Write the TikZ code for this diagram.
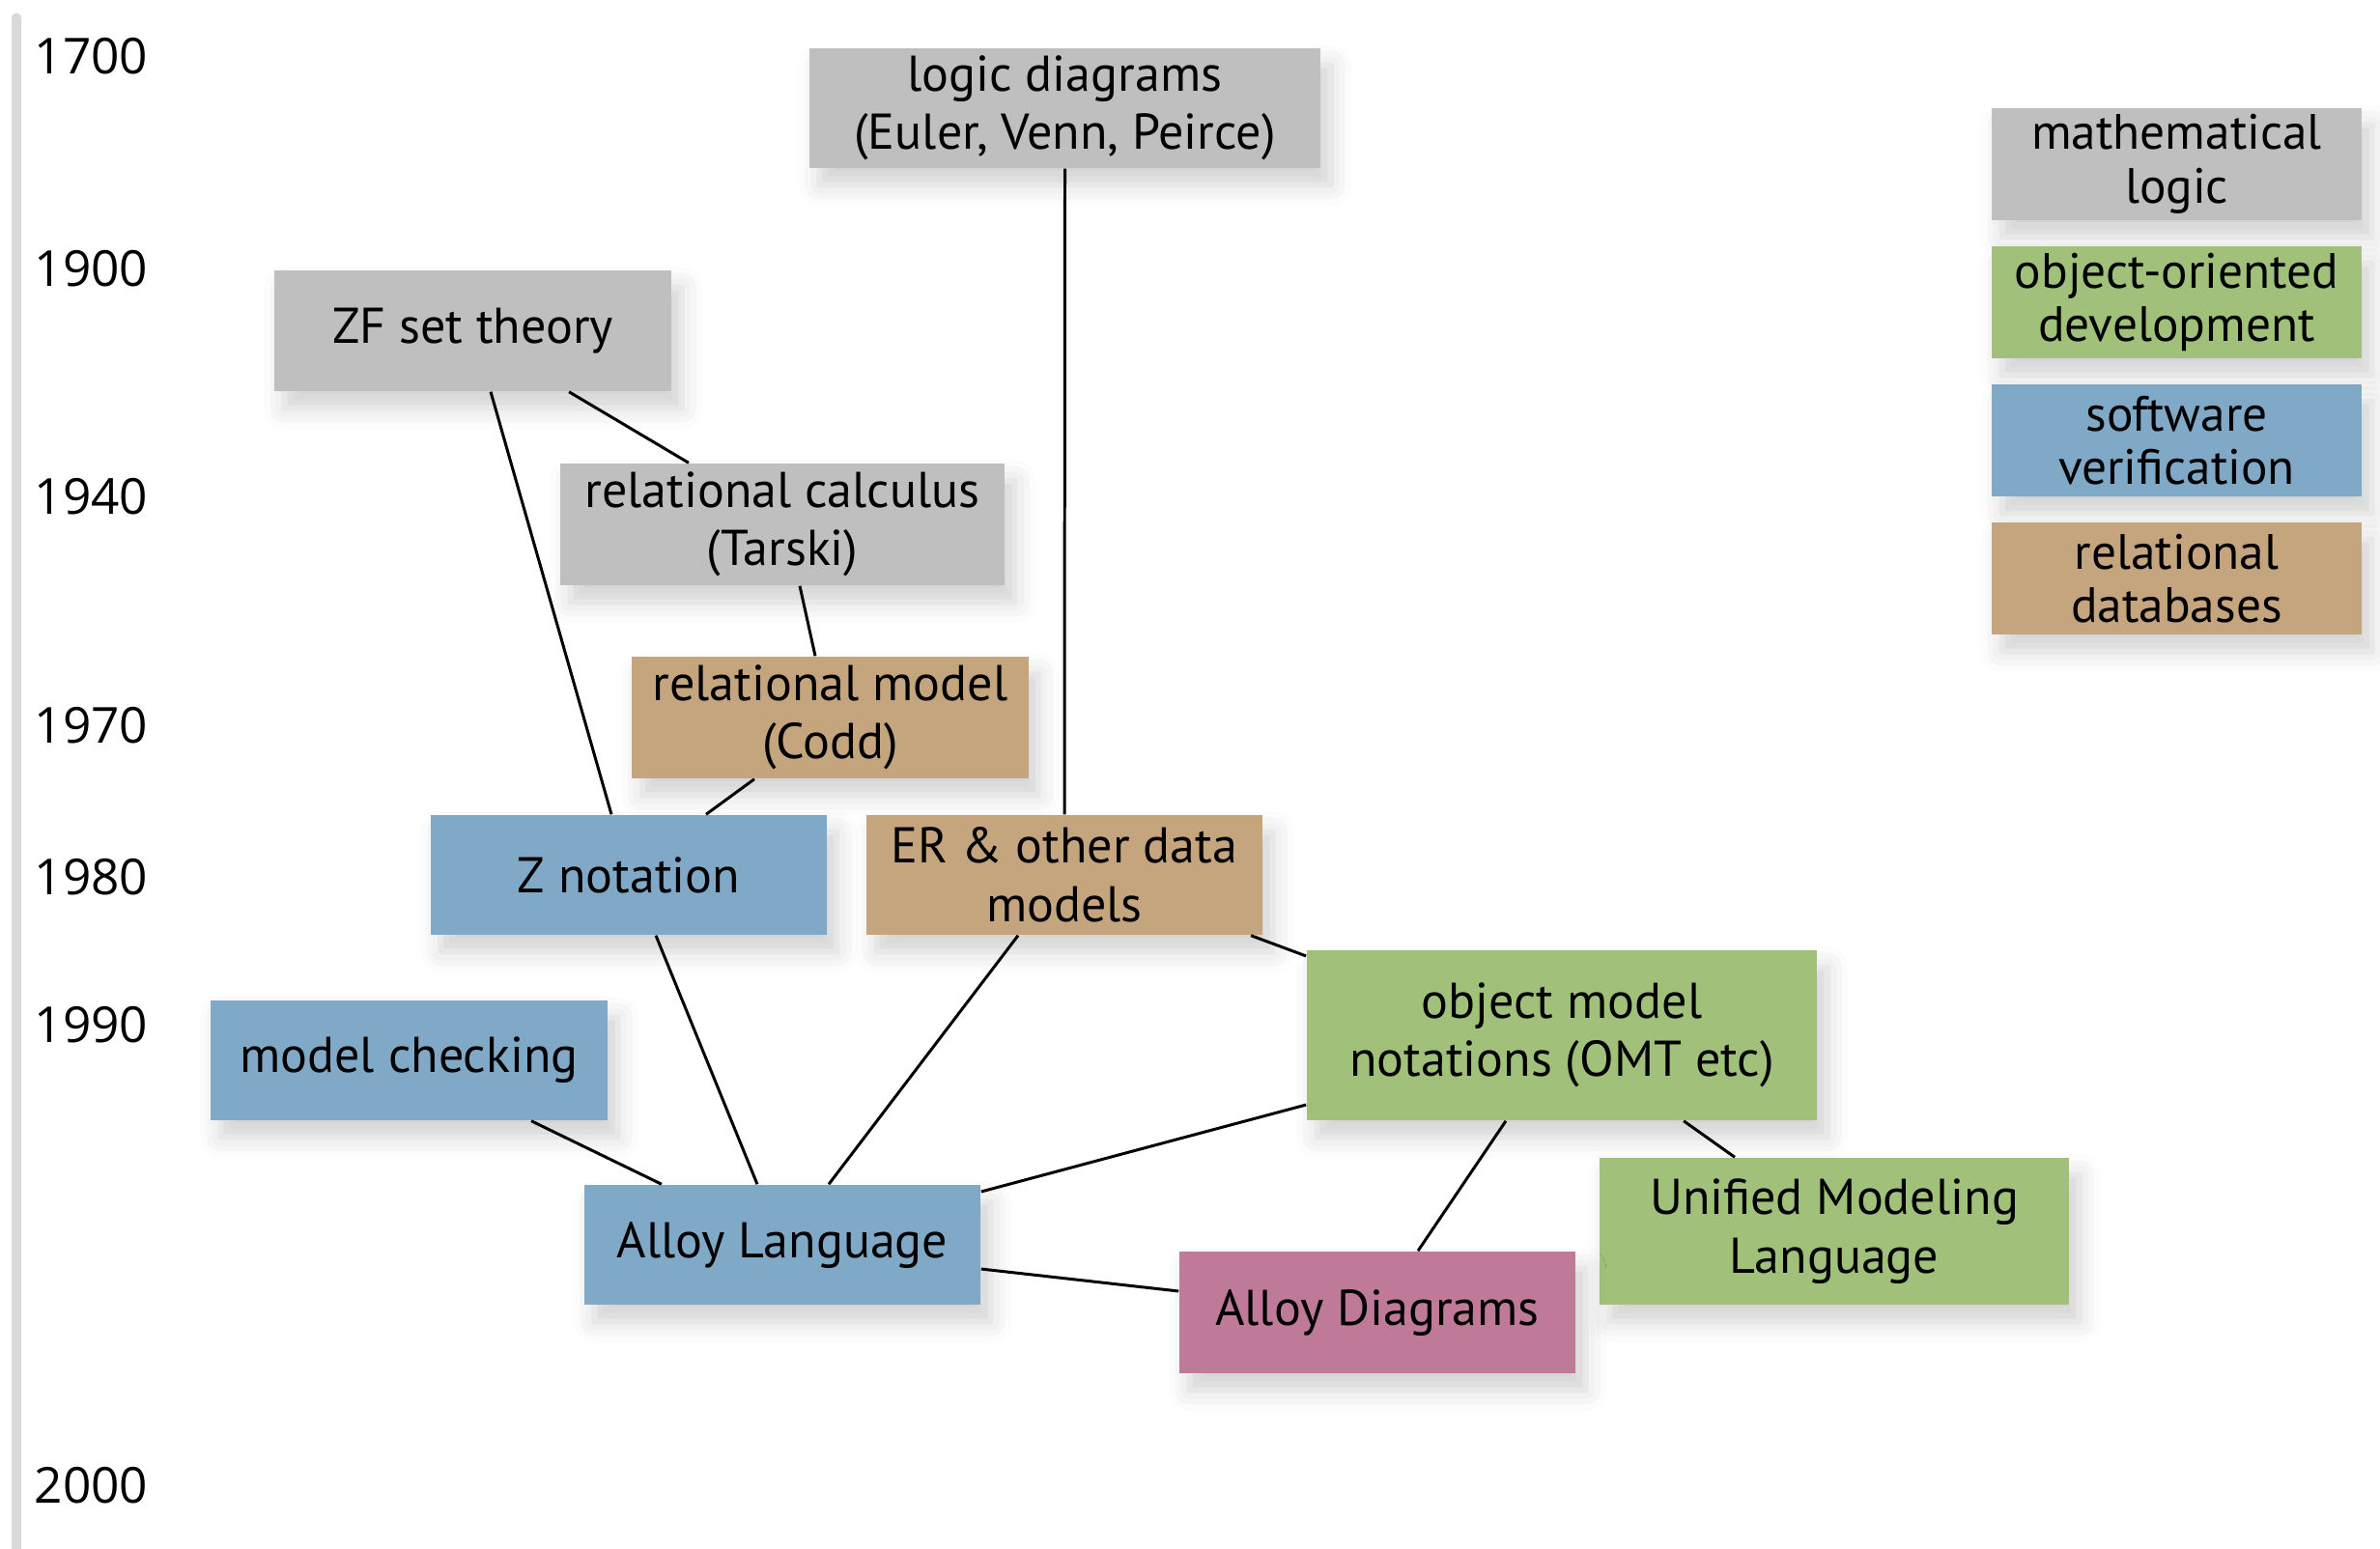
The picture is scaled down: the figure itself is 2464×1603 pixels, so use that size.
\documentclass[tikz,border=0pt]{standalone}
\usepackage{fontspec}
\setmainfont{PT Sans}
\newfontfamily\yearfont{Open Sans}
\usetikzlibrary{shadows.blur}

\definecolor{logicgrey}{RGB}{191,191,191}
\definecolor{oogreen}{RGB}{161,193,122}
\definecolor{verifblue}{RGB}{128,168,199}
\definecolor{dbtan}{RGB}{197,165,125}
\definecolor{alloypink}{RGB}{192,122,153}
\definecolor{axisgrey}{RGB}{217,217,217}

\tikzset{
  box/.style={rectangle, inner sep=0pt, align=center,
    minimum width=4.1cm, minimum height=1.25cm,
    font=\fontsize{14.8}{17.2}\selectfont,
    blur shadow={shadow xshift=3pt, shadow yshift=-5pt,
      shadow blur radius=6pt, shadow opacity=18}},
  logicbox/.style={box, fill=logicgrey},
  oobox/.style={box, fill=oogreen},
  verifbox/.style={box, fill=verifblue},
  dbbox/.style={box, fill=dbtan},
  alloybox/.style={box, fill=alloypink},
  legendbox/.style={minimum width=3.83cm, minimum height=1.16cm,
    font=\fontsize{14.6}{15.8}\selectfont},
  year/.style={anchor=west, inner sep=0pt, font=\yearfont\fontsize{14.6}{18}\selectfont},
  link/.style={line width=0.85pt, black},
}

\begin{document}
\begin{tikzpicture}[x=0.01cm, y=-0.01cm]
  \useasboundingbox (0,0) rectangle (2464,1603);

  % time axis
  \draw[axisgrey, line width=0.09cm, line cap=round] (17,18) -- (17,1620);
  \node[year] (y1700) at (35,58) {1700};
  \node[year] (y1900) at (35,278) {1900};
  \node[year] (y1940) at (35,514) {1940};
  \node[year] (y1970) at (35,751) {1970};
  \node[year] (y1980) at (35,908) {1980};
  \node[year] (y1990) at (35,1061) {1990};
  \node[year] (y2000) at (35,1538) {2000};

  % legend
  \node[logicbox, legendbox] (lgmath) at (2253.5,170) {mathematical\\logic};
  \node[oobox, legendbox] (lgoo) at (2253.5,313) {object-oriented\\development};
  \node[verifbox, legendbox] (lgver) at (2253.5,456) {software\\verification};
  \node[dbbox, legendbox] (lgdb) at (2253.5,599) {relational\\databases};

  % topics
  \node[logicbox, minimum width=5.29cm, minimum height=1.24cm] (logic) at (1102.5,112) {logic diagrams\\(Euler, Venn, Peirce)};
  \node[logicbox, minimum width=4.11cm] (zf) at (489.5,342.5) {ZF set theory};
  \node[logicbox, minimum width=4.6cm, minimum height=1.26cm] (relcalc) at (810,543) {relational calculus\\(Tarski)};
  \node[dbbox, minimum height=1.26cm] (relmodel) at (859.5,743) {relational model\\(Codd)};
  \node[verifbox, minimum height=1.24cm] (znot) at (651,906) {Z notation};
  \node[dbbox, minimum height=1.24cm] (er) at (1102,906) {ER \& other data\\models};
  \node[oobox, minimum width=5.28cm, minimum height=1.76cm] (omt) at (1617,1072) {object model\\notations (OMT etc)};
  \node[verifbox, minimum width=4.11cm, minimum height=1.24cm] (mc) at (423.5,1098) {model checking};
  \node[verifbox, minimum height=1.24cm] (alloy) at (810,1289) {Alloy Language};
  \node[oobox, minimum width=4.86cm, minimum height=1.52cm] (uml) at (1899,1275) {Unified Modeling\\Language};
  \node[alloybox, minimum height=1.26cm] (adiag) at (1426,1359) {Alloy Diagrams};

  % influences
  \draw[link] (logic.south) -- (er.north);
  \draw[link] ([xshift=0.185cm]zf.south) -- ([xshift=-0.18cm]znot.north);
  \draw[link] ([xshift=0.995cm]zf.south) -- ([xshift=-0.97cm]relcalc.north);
  \draw[link] ([xshift=0.18cm]relcalc.south) -- ([xshift=-0.155cm]relmodel.north);
  \draw[link] ([xshift=-0.785cm]relmodel.south) -- ([xshift=0.8cm]znot.north);
  \draw[link] ([xshift=0.28cm]znot.south) -- ([xshift=-0.26cm]alloy.north);
  \draw[link] ([xshift=-0.48cm]er.south) -- ([xshift=0.48cm]alloy.north);
  \draw[link] ([xshift=1.93cm]er.south) -- ([yshift=0.82cm]omt.west);
  \draw[link] ([xshift=1.265cm]mc.south) -- ([xshift=-1.25cm]alloy.north);
  \draw[link] ([yshift=-0.72cm]omt.west) -- ([yshift=0.55cm]alloy.east);
  \draw[link] ([xshift=1.26cm]omt.south) -- ([xshift=-1.03cm]uml.north);
  \draw[link] ([xshift=-0.58cm]omt.south) -- ([xshift=0.42cm]adiag.north);
  \draw[link] ([yshift=-0.25cm]alloy.east) -- ([yshift=0.22cm]adiag.west);
\end{tikzpicture}
\end{document}
